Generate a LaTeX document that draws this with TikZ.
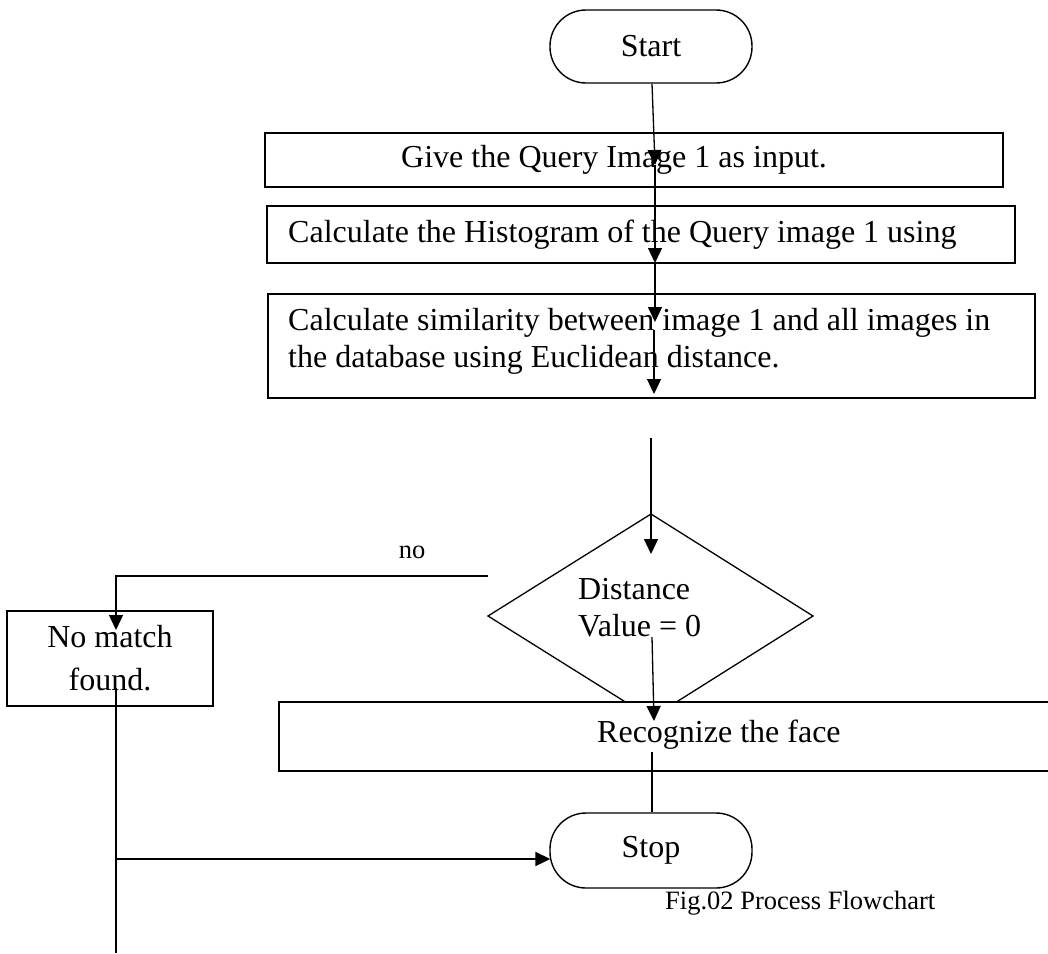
\documentclass[tikz,border=0pt]{standalone}
\usepackage{fontspec}
\setmainfont{Liberation Serif}
\usetikzlibrary{arrows.meta}
\begin{document}
\begin{tikzpicture}[x=1pt,y=-1pt,
  box/.style={draw, line width=1.5pt, fill=white, inner sep=0pt},
  term/.style={draw, line width=1.4pt, fill=white, rounded corners=36pt, inner sep=0pt, font=\fontsize{32}{37}\selectfont},
  txt/.style={font=\fontsize{32}{37}\selectfont, inner sep=0pt, anchor=west, align=left},
  small/.style={font=\fontsize{26.5}{30}\selectfont, inner sep=0pt},
  conn/.style={line width=1.3pt},
  arr/.style={conn, -{Triangle[length=15pt,width=14pt]}}
]
\clip (0,0) rectangle (1048,953);
% terminals
\node[term, minimum width=202pt, minimum height=73pt] (start) at (651,46.5) {Start};
\node[term, minimum width=202pt, minimum height=75pt] (stop) at (651,850.5) {Stop};
% process boxes
\node[box, minimum width=738pt, minimum height=54pt] (b1) at (634,160) {};
\node[txt] (t1) at (401,160) {Give the Query Image 1 as input.};
\node[box, minimum width=748pt, minimum height=57pt] (b2) at (641,234.5) {};
\node[txt] (t2) at (288,235) {Calculate the Histogram of the Query image 1 using};
\node[box, minimum width=767pt, minimum height=104pt] (b3) at (651.5,346) {};
\node[txt] (t3) at (288,341.5) {Calculate similarity between image 1 and all images in\\the database using Euclidean distance.};
% decision
\coordinate (dt) at (651,514);
\coordinate (dl) at (488,616);
\coordinate (dr) at (813,616);
\coordinate (db) at (651,718);
\draw[line width=1.3pt] (dt) -- (dr) -- (db) -- (dl) -- cycle;
\node[txt] (t4) at (578,608) {Distance\\Value = 0};
% recognize
\node[box, minimum width=781pt, minimum height=69pt] (rec) at (669.5,736.5) {};
\node[txt] (t5) at (597,735) {Recognize the face};
% no match
\node[box, minimum width=206pt, minimum height=95pt, align=center, font=\fontsize{32}{43}\selectfont] (nm) at (110,658.5) {No match\\found.};
% labels
\node[small] (no) at (412,552) {no};
\node[small, anchor=west] (cap) at (665,903) {Fig.02 Process Flowchart};
% connectors
\coordinate (a1) at (655,165);
\coordinate (a2) at (655,263);
\coordinate (a3) at (655,322);
\coordinate (a4) at (654,330);
\coordinate (a5) at (654,394);
\coordinate (a6) at (651,438);
\coordinate (a7) at (651,554);
\coordinate (a8) at (652,637);
\coordinate (a9) at (654,721);
\coordinate (a10) at (652,752);
\coordinate (n1) at (488,576);
\coordinate (n2) at (116,576);
\coordinate (n3) at (116,630);
\coordinate (f1) at (116,688);
\coordinate (f2) at (116,953);
\coordinate (j) at (116,859);
\draw[arr] ([xshift=1pt]start.south) -- (a1);
\draw[arr] (a1) -- (a2);
\draw[arr] (a2) -- (a3);
\draw[arr] (a4) -- (a5);
\draw[arr] (a6) -- (a7);
\draw[arr] (a8) -- (a9);
\draw[conn] (a10) -- ([xshift=1pt]stop.north);
\draw[arr] (n1) -- (n2) -- (n3);
\draw[conn] (f1) -- (f2);
\draw[arr, line width=2pt] (j) -- ([xshift=1pt]j -| stop.west);
\end{tikzpicture}
\end{document}
